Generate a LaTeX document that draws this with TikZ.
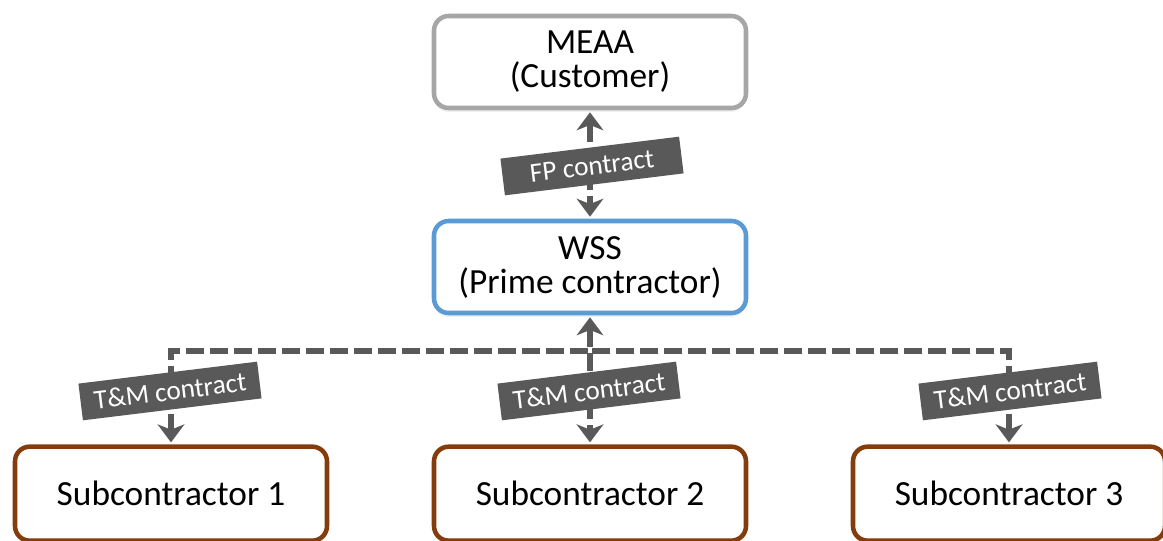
\documentclass[tikz,border=0pt]{standalone}
\usepackage{fontspec}
\setmainfont{Carlito}
\usetikzlibrary{arrows.meta,positioning,shadows}
\definecolor{custgray}{HTML}{A6A6A6}
\definecolor{primeblue}{HTML}{5B9BD5}
\definecolor{subbrown}{HTML}{843C0C}
\definecolor{tagdark}{HTML}{595959}

\begin{document}
\begin{tikzpicture}[x=0.75pt,y=0.75pt,>={Stealth[length=13.5pt,width=20pt,inset=4pt]},
                    node distance=153.75pt]
\tikzstyle{party}=[draw,rounded corners=11pt,line width=3.4pt,fill=white,
                   minimum width=234pt,minimum height=69pt,align=center,text=black,
                   font=\fontsize{26.5}{25.5}\selectfont,
                   drop shadow={opacity=0.12,shadow xshift=0pt,shadow yshift=-3pt}]
\tikzstyle{tag}=[fill=tagdark,text=white,rotate=7,inner sep=0pt,
                 minimum width=135pt,minimum height=27.75pt,
                 font=\fontsize{20.5}{20.5}\selectfont]
\tikzstyle{link}=[draw=tagdark,line width=4.5pt,dash pattern=on 13.5pt off 4.5pt,
                  shorten >=1.5pt,shorten <=1.5pt]
\useasboundingbox (0,0) rectangle (1163,540);
\clip (0,0) rectangle (1163,540);

\node [party,draw=custgray] (meaa) at (590,478) {MEAA\\(Customer)};
\node [party,draw=primeblue] (wss) [below of=meaa] {WSS\\(Prime contractor)};
\node [party,draw=subbrown,minimum height=70.5pt] (sub2) [below of=wss,node distance=170pt] {Subcontractor 2};
\node [party,draw=subbrown,minimum height=70.5pt] (sub1) [left of=sub2,node distance=314.25pt] {Subcontractor 1};
\node [party,draw=subbrown,minimum height=70.5pt] (sub3) [right of=sub2,node distance=314.25pt] {Subcontractor 3};

\coordinate (bus) at (590,189);
\draw [link,<->] (meaa) -- (wss);
\draw [link,<->] (wss) -- (sub2);
\draw [link,->] (bus) -| (sub1);
\draw [link,->] (bus) -| (sub3);

\node [tag] (fp) at (592,374) {FP contract};
\node [tag] (tm1) at (170,149) {T\&M contract};
\node [tag] (tm2) at (589,149) {T\&M contract};
\node [tag] (tm3) at (1010,149) {T\&M contract};
\end{tikzpicture}
\end{document}
